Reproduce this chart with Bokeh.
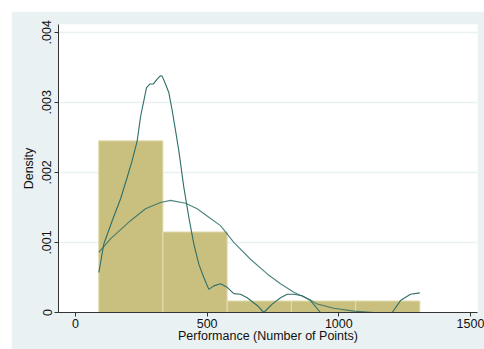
from bokeh.plotting import figure
from bokeh.models import Range1d, FixedTicker, CustomJSTickFormatter, ColumnDataSource
from bokeh.embed import file_html
from bokeh.resources import INLINE

# Histogram bins (Performance, Number of Points) and densities
bin_edges = [88, 332, 576, 820, 1064, 1308]
bin_density = [0.00245, 0.00115, 0.000165, 0.000165, 0.000165]

# Kernel density estimate
kde_x = [88.5, 107.5, 139.4, 170.9, 196.4, 215.3, 234.3, 246.9, 259.4, 269.7,
         282.2, 295.1, 310.3, 322.8, 329.3, 341.8, 354.3, 367.3, 379.8, 392.3,
         411.3, 430.3, 449.3, 468.3, 487.3, 506.3, 525.3, 550.7, 576.1, 601.2,
         626.7, 652.1, 690.1, 715.2, 747.1, 778.6, 804.0, 829.1, 861.0, 892.5,
         930.5, 1202.8, 1234.3, 1272.3, 1307.6]
kde_y = [0.000571, 0.000977, 0.00131, 0.00162, 0.00193, 0.00217, 0.00245, 0.00279, 0.00302, 0.00321,
         0.00326, 0.00326, 0.00333, 0.00338, 0.00337, 0.00326, 0.00314, 0.00288, 0.00260, 0.00231,
         0.00179, 0.00136, 0.00098, 0.00069, 0.00050, 0.00033, 0.00038, 0.00041, 0.00036, 0.00027,
         0.00026, 0.00021, 0.00010, 0.0, 0.00012, 0.00021, 0.00026, 0.00026, 0.00024, 0.00017,
         0.0, 0.0, 0.00017, 0.00026, 0.00028]

# Normal density overlay
norm_x = [88.5, 132.9, 208.9, 265.9, 322.8, 360.8, 417.8, 462.2, 506.3, 550.7,
          601.2, 664.6, 728.1, 778.6, 829.1, 892.5, 918.0, 981.0, 1057.0, 1133.0, 1302.7]
norm_y = [0.000857, 0.00105, 0.00131, 0.00148, 0.00157, 0.00160, 0.00156, 0.00148, 0.00136, 0.00124,
          0.00100, 0.00076, 0.00055, 0.00041, 0.00029, 0.00018, 0.00012, 0.00006, 0.00002, 0.0, 0.0]

x_ticks = [0, 500, 1000, 1500]
y_ticks = [0, 0.001, 0.002, 0.003, 0.004]
x_title = "Performance (Number of Points)"
y_title = "Density"

BG = "#EAF1F3"
LINE = "#2E6E68"
FONT = "Liberation Sans"

p = figure(width=473, height=338, output_backend="svg", toolbar_location=None,
           x_range=Range1d(-64.6, 1526.8), y_range=Range1d(0, 0.00411),
           min_border_left=47, min_border_right=7, min_border_top=13, min_border_bottom=37,
           background_fill_color="white", border_fill_color=BG,
           outline_line_color=None)
p.margin = (11, 0, 0, 11)

src = ColumnDataSource(dict(left=bin_edges[:-1], right=bin_edges[1:], top=bin_density))
p.quad(left="left", right="right", top="top", bottom=0, source=src,
       fill_color="#C9C07F", line_color="#E2DDB3", line_width=1)

p.line(norm_x, norm_y, line_color=LINE, line_width=1.1, line_alpha=0.85)
p.line(kde_x, kde_y, line_color=LINE, line_width=1.1)

p.xgrid.visible = False
p.ygrid.ticker = FixedTicker(ticks=y_ticks[1:])
p.ygrid.grid_line_color = "#EAF1F3"
p.ygrid.grid_line_width = 1.5

p.xaxis.ticker = FixedTicker(ticks=x_ticks)
p.yaxis.ticker = FixedTicker(ticks=y_ticks)
p.yaxis.formatter = CustomJSTickFormatter(code="""
    if (tick == 0) return "0";
    return tick.toFixed(3).replace(/^0/, "");
""")
p.yaxis.major_label_orientation = "vertical"

for ax in (p.xaxis[0], p.yaxis[0]):
    ax.axis_line_color = "#333333"
    ax.major_tick_line_color = "#333333"
    ax.major_tick_out = 4
    ax.major_tick_in = 0
    ax.minor_tick_line_color = None
    ax.major_label_text_font = FONT
    ax.major_label_text_font_size = "12.5px"
    ax.major_label_text_color = "#111111"
    ax.axis_label_text_font = FONT
    ax.axis_label_text_font_size = "12.5px"
    ax.axis_label_text_font_style = "normal"
    ax.axis_label_text_color = "#111111"

p.xaxis.axis_label = x_title
p.yaxis.axis_label = y_title
p.xaxis.major_label_standoff = 2
p.xaxis.axis_label_standoff = -2
p.yaxis.major_label_standoff = 3
p.yaxis.axis_label_standoff = 4

open("out.html", "w").write(file_html(p, INLINE))
